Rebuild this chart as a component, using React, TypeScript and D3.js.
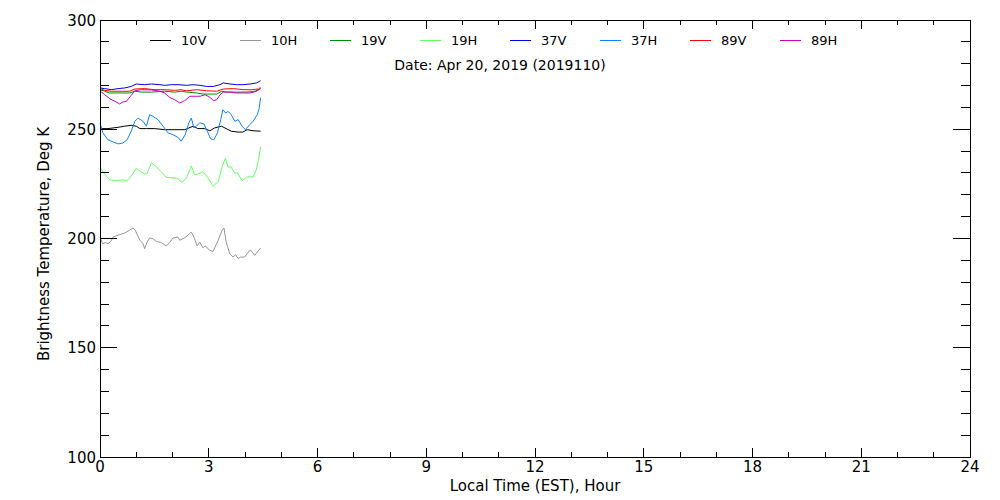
import React from "react";
import * as d3 from "d3";

const seriesNames = ["10V", "10H", "19V", "19H", "37V", "37H", "89V", "89H"];
const seriesColors = ["#000000", "#969696", "#008c00", "#64ff64", "#0000e6", "#0a82ff", "#ff0000", "#c800c8"];

const hours10V = [0, 0.22, 0.5, 0.68, 0.86, 1.0, 1.1, 1.28, 1.51, 1.78, 2.06, 2.34, 2.57, 2.7, 2.89, 3.03, 3.16, 3.35, 3.48, 3.62, 3.81, 3.94, 4.06, 4.22, 4.43];
const temps10V = [250.3, 250.3, 250.9, 251.4, 251.8, 251.4, 250.3, 250.3, 250.3, 249.8, 249.8, 249.8, 251.4, 250.3, 250.3, 249.3, 250.6, 251.4, 250.3, 249.1, 248.7, 248.7, 249.8, 249.3, 249.1];

const hours10H = [0, 0.07, 0.15, 0.22, 0.3, 0.36, 0.5, 0.68, 0.82, 0.91, 0.97, 1.1, 1.19, 1.23, 1.3, 1.37, 1.46, 1.55, 1.69, 1.83, 1.92, 2.01, 2.15, 2.2, 2.32, 2.43, 2.52, 2.61, 2.68, 2.75, 2.84, 2.9, 3.03, 3.12, 3.26, 3.37, 3.42, 3.48, 3.58, 3.67, 3.74, 3.81, 3.88, 3.99, 4.13, 4.19, 4.27, 4.34, 4.43];
const temps10H = [200.7, 197.6, 198.1, 197.6, 198.7, 200.7, 201.5, 202.5, 203.8, 204.8, 203.8, 199.2, 197.6, 195.3, 198.4, 200.2, 199.9, 198.7, 198.1, 196.6, 198.1, 200.2, 200.7, 199.2, 200.2, 201.5, 203.0, 199.9, 196.6, 198.4, 195.7, 196.6, 194.6, 194.1, 199.2, 203.8, 204.8, 198.4, 193.0, 191.5, 192.6, 190.8, 191.5, 191.5, 194.6, 194.1, 192.3, 193.8, 195.7];

const hours19V = [0, 0.13, 0.27, 0.5, 0.82, 0.96, 1.14, 1.42, 1.78, 2.06, 2.24, 2.39, 2.67, 2.85, 3.03, 3.22, 3.36, 3.5, 3.77, 4.05, 4.28, 4.43];
const temps19V = [268.1, 267.4, 266.6, 266.6, 266.6, 267.4, 267.0, 267.0, 267.4, 267.0, 267.4, 267.0, 266.6, 266.1, 266.1, 266.1, 267.4, 267.0, 267.0, 267.0, 267.4, 268.6];

const hours19H = [0, 0.13, 0.27, 0.45, 0.63, 0.75, 0.86, 1.0, 1.12, 1.23, 1.3, 1.42, 1.55, 1.69, 1.83, 1.97, 2.13, 2.26, 2.38, 2.52, 2.61, 2.7, 2.84, 2.98, 3.12, 3.26, 3.37, 3.46, 3.53, 3.61, 3.72, 3.79, 3.92, 4.04, 4.13, 4.22, 4.31, 4.38, 4.43];
const temps19H = [232.6, 229.5, 226.8, 226.5, 226.8, 226.5, 228.6, 232.1, 230.6, 229.5, 229.8, 234.7, 232.9, 230.6, 228.0, 227.8, 227.6, 225.7, 227.6, 233.2, 229.1, 229.5, 230.6, 227.6, 224.0, 226.0, 232.9, 236.7, 232.6, 232.9, 229.8, 230.1, 226.5, 228.0, 228.6, 228.0, 231.4, 236.7, 242.0];

const hours37V = [0, 0.13, 0.31, 0.5, 0.68, 0.86, 1.0, 1.23, 1.42, 1.65, 1.78, 1.97, 2.15, 2.39, 2.57, 2.76, 2.94, 3.13, 3.31, 3.4, 3.59, 3.77, 3.95, 4.14, 4.32, 4.43];
const temps37V = [268.9, 268.6, 268.1, 268.6, 268.9, 269.6, 270.7, 270.4, 270.7, 270.4, 270.1, 270.4, 270.4, 270.1, 270.4, 270.1, 269.6, 269.6, 270.4, 271.2, 270.7, 270.4, 270.4, 270.7, 271.2, 272.2];

const hours37H = [0, 0.08, 0.22, 0.36, 0.5, 0.63, 0.75, 0.86, 0.96, 1.05, 1.19, 1.28, 1.37, 1.46, 1.6, 1.74, 1.88, 2.01, 2.15, 2.24, 2.35, 2.45, 2.52, 2.59, 2.66, 2.75, 2.87, 2.96, 3.05, 3.14, 3.24, 3.33, 3.39, 3.47, 3.53, 3.62, 3.72, 3.81, 3.92, 4.01, 4.13, 4.22, 4.34, 4.39, 4.43];
const temps37H = [252.9, 248.3, 245.2, 244.2, 243.3, 243.7, 245.2, 249.1, 253.6, 255.1, 253.6, 251.4, 256.7, 255.9, 254.4, 251.4, 248.3, 247.5, 246.3, 244.5, 247.5, 252.9, 255.1, 250.6, 251.4, 252.9, 252.4, 249.1, 245.7, 245.2, 248.3, 254.4, 258.9, 257.4, 258.2, 256.7, 253.6, 254.4, 251.4, 249.8, 252.1, 253.6, 256.7, 259.5, 264.4];

const hours89V = [0, 0.13, 0.31, 0.59, 0.82, 0.96, 1.23, 1.51, 1.78, 2.06, 2.24, 2.39, 2.67, 2.94, 3.22, 3.4, 3.68, 3.95, 4.18, 4.37, 4.43];
const temps89V = [268.6, 267.8, 267.4, 267.4, 267.4, 268.4, 268.6, 268.1, 268.1, 267.8, 268.1, 267.6, 268.1, 267.6, 267.4, 268.4, 268.6, 268.1, 268.1, 268.4, 269.2];

const hours89H = [0, 0.13, 0.27, 0.41, 0.54, 0.63, 0.73, 0.86, 0.96, 1.14, 1.42, 1.65, 1.78, 1.92, 2.06, 2.2, 2.34, 2.48, 2.62, 2.76, 2.9, 3.03, 3.13, 3.22, 3.31, 3.4, 3.59, 3.77, 3.95, 4.14, 4.32, 4.43];
const temps89H = [267.6, 265.8, 264.0, 262.8, 261.6, 262.5, 262.8, 265.5, 267.6, 268.1, 268.0, 267.4, 266.6, 264.6, 263.5, 262.0, 263.1, 265.1, 265.1, 265.1, 265.8, 264.6, 263.1, 263.5, 265.8, 267.0, 267.0, 266.6, 266.6, 266.6, 267.4, 268.6];

const seriesHours = [hours10V, hours10H, hours19V, hours19H, hours37V, hours37H, hours89V, hours89H];
const seriesTemps = [temps10V, temps10H, temps19V, temps19H, temps37V, temps37H, temps89V, temps89H];

const xMajorTicks = [0, 3, 6, 9, 12, 15, 18, 21, 24];
const xMinorTicks = d3.range(0, 25, 1);
const yMajorTicks = [100, 150, 200, 250, 300];
const yMinorTicks = d3.range(100, 301, 10);

const dateLabel = "Date: Apr 20, 2019 (2019110)";
const xTitle = "Local Time (EST), Hour";
const yTitle = "Brightness Temperature, Deg K";

export default function App() {
  const W = 1000, H = 500;
  const left = 100, right = 970, top = 20, bottom = 457;
  const x = d3.scaleLinear().domain([0, 24]).range([left, right]);
  const y = d3.scaleLinear().domain([100, 300]).range([bottom, top]);
  const font = "'DejaVu Sans', sans-serif";
  const xMajLen = 9, xMinLen = 5, yMajLen = 17, yMinLen = 9;

  const lines = seriesNames.map((name, i) => {
    const pts = seriesHours[i].map((h, j) => [h, seriesTemps[i][j]] as [number, number]);
    const gen = d3.line<[number, number]>().x(d => x(d[0])).y(d => y(d[1]));
    return <path key={name} d={gen(pts) || ""} fill="none" stroke={seriesColors[i]} strokeWidth={1} />;
  });

  return (
    <svg width={W} height={H} style={{ position: "absolute", left: 0, top: 0, background: "#fff" }} fontFamily={font}>
      <rect x={0} y={0} width={W} height={H} fill="#fff" />
      {lines}
      <rect x={left} y={top} width={right - left} height={bottom - top} fill="none" stroke="#000" strokeWidth={1} shapeRendering="crispEdges" />
      {xMinorTicks.map(t => {
        const len = xMajorTicks.includes(t) ? xMajLen : xMinLen;
        return (
          <g key={"xt" + t} stroke="#000" shapeRendering="crispEdges">
            <line x1={x(t)} x2={x(t)} y1={bottom} y2={bottom - len} />
            <line x1={x(t)} x2={x(t)} y1={top} y2={top + len} />
          </g>
        );
      })}
      {yMinorTicks.map(t => {
        const len = yMajorTicks.includes(t) ? yMajLen : yMinLen;
        return (
          <g key={"yt" + t} stroke="#000" shapeRendering="crispEdges">
            <line x1={left} x2={left + len} y1={y(t)} y2={y(t)} />
            <line x1={right} x2={right - len} y1={y(t)} y2={y(t)} />
          </g>
        );
      })}
      {xMajorTicks.map(t => (
        <text key={"xl" + t} x={x(t)} y={bottom + 15} fontSize={15} textAnchor="middle" fill="#000">{t}</text>
      ))}
      {yMajorTicks.map(t => (
        <text key={"yl" + t} x={left - 4} y={y(t) + 5.5} fontSize={15} textAnchor="end" fill="#000">{t}</text>
      ))}
      <text x={(left + right) / 2} y={491} fontSize={15} textAnchor="middle" fill="#000">{xTitle}</text>
      <text transform={`translate(49, 244) rotate(-90)`} fontSize={15} textAnchor="middle" fill="#000">{yTitle}</text>
      {seriesNames.map((name, i) => {
        const lx = 150 + i * 90;
        return (
          <g key={"lg" + name}>
            <line x1={lx} x2={lx + 21} y1={40} y2={40} stroke={seriesColors[i]} strokeWidth={1} shapeRendering="crispEdges" />
            <text x={lx + 31} y={45} fontSize={13} fill="#000">{name}</text>
          </g>
        );
      })}
      <text x={500} y={70} fontSize={14} textAnchor="middle" fill="#000">{dateLabel}</text>
    </svg>
  );
}
